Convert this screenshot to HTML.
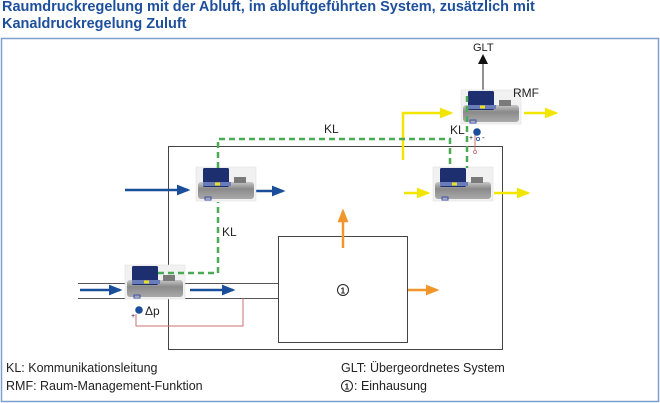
<!DOCTYPE html>
<html><head><style>
html,body{margin:0;padding:0;background:#fff;width:660px;height:403px;overflow:hidden}
.t{position:absolute;left:2px;top:-1px;font:bold 14.5px "Liberation Sans",sans-serif;color:#1d4f9c;line-height:17px}
svg{position:absolute;left:0;top:0}
text{font-family:"Liberation Sans",sans-serif;fill:#222}
</style></head><body>
<div class="t">Raumdruckregelung mit der Abluft, im abluftgeführten System, zusätzlich mit<br>Kanaldruckregelung Zuluft</div>
<svg width="660" height="403" viewBox="0 0 660 403">
<defs>
<marker id="ab" markerWidth="5.5" markerHeight="4.4" refX="4.5" refY="2.2" orient="auto" markerUnits="strokeWidth"><path d="M0,0L5.5,2.2L0,4.4z" fill="#1a4d9a"/></marker>
<marker id="ay" markerWidth="5.5" markerHeight="4.4" refX="4.5" refY="2.2" orient="auto" markerUnits="strokeWidth"><path d="M0,0L5.5,2.2L0,4.4z" fill="#f2e600"/></marker>
<marker id="ao" markerWidth="5.5" markerHeight="4.4" refX="4.5" refY="2.2" orient="auto" markerUnits="strokeWidth"><path d="M0,0L5.5,2.2L0,4.4z" fill="#f0962a"/></marker>
<linearGradient id="pg" x1="0" y1="0" x2="0" y2="1"><stop offset="0" stop-color="#c8c8c8"/><stop offset="0.4" stop-color="#8a8a8a"/><stop offset="1" stop-color="#aaa"/></linearGradient>
<g id="dev">
<rect x="0" y="0" width="60" height="34" fill="#f1f1f1" stroke="#ddd" stroke-width="0.5"/>
<rect x="2" y="15" width="56" height="17" rx="3" fill="url(#pg)"/>
<rect x="7" y="1" width="26" height="19" rx="1.5" fill="#1d2f6e"/>
<rect x="7" y="15" width="28" height="4" fill="#6a7db8"/>
<rect x="19" y="15.5" width="5" height="3" fill="#e8e020"/>
<rect x="38" y="10" width="12" height="6" fill="#7a7a7a"/>
<rect x="9" y="30" width="6" height="3" fill="none" stroke="#3a4fb0" stroke-width="1"/>
</g>
</defs>
<rect x="1.5" y="38.5" width="657" height="363" fill="none" stroke="#7f9fcf" stroke-width="1.5"/>
<rect x="168.5" y="146.5" width="334" height="203" fill="none" stroke="#444" stroke-width="1"/>
<rect x="278.5" y="236.5" width="129" height="106" fill="#fff" stroke="#444" stroke-width="1"/>
<line x1="78" y1="283.5" x2="278" y2="283.5" stroke="#555"/>
<line x1="78" y1="298.5" x2="278" y2="298.5" stroke="#555"/>
<polyline points="136,314 136,326 243,326 243,298" fill="none" stroke="#c87070" stroke-width="1"/>
<polyline points="475,131 475,150" fill="none" stroke="#c87070" stroke-width="1"/>
<circle cx="475" cy="152" r="1.6" fill="#fff" stroke="#c87070" stroke-width="0.8"/>
<line x1="483" y1="90" x2="483" y2="62" stroke="#222"/>
<path d="M478,64L483,54L488,64z" fill="#111"/>
<text x="473" y="51" font-size="11">GLT</text>
<polyline points="403,160 403,113 451,113" fill="none" stroke="#f2e600" stroke-width="2.5" marker-end="url(#ay)"/>
<line x1="524" y1="113" x2="556" y2="113" stroke="#f2e600" stroke-width="2.5" marker-end="url(#ay)"/>
<line x1="404" y1="193" x2="428" y2="193" stroke="#f2e600" stroke-width="2.5" marker-end="url(#ay)"/>
<line x1="494" y1="193" x2="528" y2="193" stroke="#f2e600" stroke-width="2.5" marker-end="url(#ay)"/>
<line x1="125" y1="190" x2="188" y2="190" stroke="#1a4d9a" stroke-width="2.5" marker-end="url(#ab)"/>
<line x1="256" y1="191" x2="283" y2="191" stroke="#1a4d9a" stroke-width="2.5" marker-end="url(#ab)"/>
<line x1="80" y1="290" x2="120" y2="290" stroke="#1a4d9a" stroke-width="2.5" marker-end="url(#ab)"/>
<line x1="190" y1="290" x2="233" y2="290" stroke="#1a4d9a" stroke-width="2.5" marker-end="url(#ab)"/>
<line x1="343" y1="248" x2="343" y2="211" stroke="#f0962a" stroke-width="2.5" marker-end="url(#ao)"/>
<line x1="408" y1="290" x2="437" y2="290" stroke="#f0962a" stroke-width="2.5" marker-end="url(#ao)"/>
<use href="#dev" x="125" y="265"/>
<use href="#dev" x="196" y="167"/>
<use href="#dev" x="433" y="167"/>
<use href="#dev" x="461" y="90"/>
<g fill="none" stroke="#4aaa55" stroke-width="2.5" stroke-dasharray="6,4">
<polyline points="158,273 218,273 218,202"/>
<polyline points="218,168 218,139 450,139 450,168"/>
<polyline points="467,96 467,168"/>
</g>
<circle cx="139" cy="310" r="3.8" fill="#1a4d9a"/>
<text x="131" y="318" font-size="7">+</text>
<text x="145" y="315" font-size="12">Δp</text>
<circle cx="477" cy="132" r="3.8" fill="#1a4d9a"/>
<text x="469" y="140" font-size="7">+</text>
<text x="482" y="140" font-size="8">-</text>
<circle cx="478" cy="139" r="1.6" fill="#fff" stroke="#1a4d9a" stroke-width="0.8"/>
<text x="222" y="236" font-size="12">KL</text>
<text x="324" y="133" font-size="12">KL</text>
<text x="450" y="134" font-size="12">KL</text>
<text x="513" y="97" font-size="12">RMF</text>
<circle cx="343" cy="290" r="5.5" fill="none" stroke="#222" stroke-width="1"/>
<text x="340.5" y="293.5" font-size="8.5" font-weight="bold">1</text>
<text x="6" y="372" font-size="12.5">KL: Kommunikationsleitung</text>
<text x="6" y="390" font-size="12.5">RMF: Raum-Management-Funktion</text>
<text x="341" y="372" font-size="12.5">GLT: Übergeordnetes System</text>
<circle cx="347" cy="386" r="5.5" fill="none" stroke="#222" stroke-width="1"/>
<text x="344.5" y="389.5" font-size="8.5" font-weight="bold">1</text>
<text x="354" y="390" font-size="12.5">: Einhausung</text>
</svg>
</body></html>
